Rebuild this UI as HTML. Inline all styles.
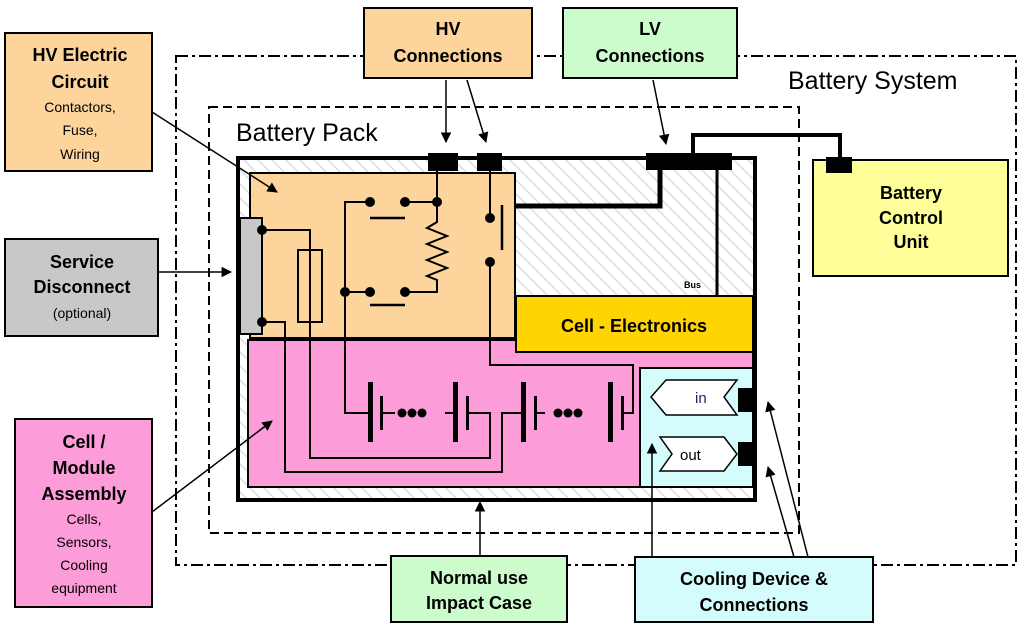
<!DOCTYPE html>
<html><head><meta charset="utf-8"><style>
html,body{margin:0;padding:0;background:#fff}
svg{display:block}
text{font-family:"Liberation Sans",sans-serif;font-weight:bold;fill:#000}
</style></head><body>
<svg width="1024" height="634" viewBox="0 0 1024 634" xmlns="http://www.w3.org/2000/svg">
<defs>
<pattern id="h" width="14" height="14" patternUnits="userSpaceOnUse">
<rect width="14" height="14" fill="#fff"/>
<path d="M0 0L14 14M-7 7L7 21M7 -7L21 7" stroke="#ddd" stroke-width="1.5"/>
</pattern>
<marker id="a" viewBox="0 0 10 10" refX="9" refY="5" markerWidth="7" markerHeight="7" orient="auto"><path d="M0 0L10 5L0 10z" fill="#000"/></marker>
</defs>
<rect x="176" y="56" width="840" height="509" fill="none" stroke="#000" stroke-width="2" stroke-dasharray="12,4,3,4"/>
<text x="788" y="89" font-size="25" style="font-weight:normal">Battery System</text>
<rect x="209" y="107" width="590" height="426" fill="none" stroke="#000" stroke-width="2" stroke-dasharray="9,5"/>
<text x="236" y="141" font-size="25" style="font-weight:normal">Battery Pack</text>
<rect x="238" y="158" width="517" height="342" fill="url(#h)" stroke="#000" stroke-width="4"/>
<rect x="250" y="173" width="265" height="165" fill="#fcd49c" stroke="#000" stroke-width="2"/>
<rect x="240" y="218" width="22" height="116" fill="#c8c8c8" stroke="#000" stroke-width="2"/>
<rect x="248" y="340" width="505" height="147" fill="#fc9cd8" stroke="#000" stroke-width="2"/>
<rect x="516" y="296" width="237" height="56" fill="#ffd400" stroke="#000" stroke-width="2"/>
<text x="634" y="332" font-size="18" text-anchor="middle">Cell - Electronics</text>
<rect x="640" y="368" width="113" height="119" fill="#d4fcfc" stroke="#000" stroke-width="2"/>
<g fill="none" stroke="#000" stroke-width="2">
<path d="M262 230H310V458H490V413H467"/>
<path d="M262 322H285V472H502V413H521"/>
<rect x="298" y="250" width="24" height="72"/>
<path d="M370 202H345V413H368"/>
<path d="M405 202H437M437 160V202"/>
<path d="M437 202V222L427 228L447 236L427 244L447 252L427 260L447 268L427 276L437 280V292H405"/>
<path d="M345 292H370"/>
<path d="M370 218H405M370 305H405" stroke-width="2.5"/>
<path d="M490 160V218M490 262V365H633V413H622"/>
<path d="M502 205V250" stroke-width="2.5"/>
<path d="M381 413H395M455 413H445M535 413H545"/>
</g>
<g fill="#000">
<circle cx="262" cy="230" r="5"/><circle cx="262" cy="322" r="5"/>
<circle cx="370" cy="202" r="5"/><circle cx="405" cy="202" r="5"/><circle cx="437" cy="202" r="5"/>
<circle cx="345" cy="292" r="5"/><circle cx="370" cy="292" r="5"/><circle cx="405" cy="292" r="5"/>
<circle cx="490" cy="218" r="5"/><circle cx="490" cy="262" r="5"/>
<rect x="368" y="382" width="5" height="60"/><rect x="380" y="396" width="3" height="34"/>
<circle cx="402" cy="413" r="4.5"/><circle cx="412" cy="413" r="4.5"/><circle cx="422" cy="413" r="4.5"/>
<rect x="453" y="382" width="5" height="60"/><rect x="466" y="396" width="3" height="34"/>
<rect x="521" y="382" width="5" height="60"/><rect x="534" y="396" width="3" height="34"/>
<circle cx="558" cy="413" r="4.5"/><circle cx="568" cy="413" r="4.5"/><circle cx="578" cy="413" r="4.5"/>
<rect x="608" y="382" width="5" height="60"/><rect x="621" y="396" width="3" height="34"/>
<rect x="428" y="153" width="30" height="18"/><rect x="477" y="153" width="25" height="18"/>
<rect x="646" y="153" width="86" height="17"/>
<rect x="738" y="388" width="19" height="24"/><rect x="738" y="442" width="19" height="24"/>
</g>
<g fill="none" stroke="#000">
<path d="M660 165V206H516" stroke-width="5"/>
<path d="M717 165V296" stroke-width="3"/>
<path d="M693 155V135H840V158" stroke-width="4"/>
</g>
<text x="684" y="288" font-size="9">Bus</text>
<path d="M651 397L666 380H737L724 397L737 415H666Z" fill="#fff" stroke="#000" stroke-width="1.5"/>
<text x="695" y="403" font-size="15" style="font-weight:normal;fill:#2a1a6a">in</text>
<path d="M660 437H724L737 454L724 471H660L672 454Z" fill="#fff" stroke="#000" stroke-width="1.5"/>
<text x="680" y="460" font-size="15" style="font-weight:normal">out</text>
<rect x="813" y="160" width="195" height="116" fill="#ffff99" stroke="#000" stroke-width="2"/>
<rect x="826" y="157" width="26" height="16" fill="#000"/>
<text font-size="18" text-anchor="middle"><tspan x="911" y="199">Battery</tspan><tspan x="911" y="224">Control</tspan><tspan x="911" y="248">Unit</tspan></text>
<rect x="5" y="33" width="147" height="138" fill="#fcd49c" stroke="#000" stroke-width="2"/>
<text text-anchor="middle"><tspan x="80" y="61" font-size="18">HV Electric</tspan><tspan x="80" y="88" font-size="18">Circuit</tspan><tspan x="80" y="112" font-size="14" style="font-weight:normal">Contactors,</tspan><tspan x="80" y="135" font-size="14" style="font-weight:normal">Fuse,</tspan><tspan x="80" y="159" font-size="14" style="font-weight:normal">Wiring</tspan></text>
<rect x="5" y="239" width="153" height="97" fill="#c8c8c8" stroke="#000" stroke-width="2"/>
<text text-anchor="middle"><tspan x="82" y="268" font-size="18">Service</tspan><tspan x="82" y="293" font-size="18">Disconnect</tspan><tspan x="82" y="318" font-size="14" style="font-weight:normal">(optional)</tspan></text>
<rect x="15" y="419" width="137" height="188" fill="#fc9cd8" stroke="#000" stroke-width="2"/>
<text text-anchor="middle"><tspan x="84" y="448" font-size="18">Cell /</tspan><tspan x="84" y="474" font-size="18">Module</tspan><tspan x="84" y="500" font-size="18">Assembly</tspan><tspan x="84" y="524" font-size="14" style="font-weight:normal">Cells,</tspan><tspan x="84" y="547" font-size="14" style="font-weight:normal">Sensors,</tspan><tspan x="84" y="570" font-size="14" style="font-weight:normal">Cooling</tspan><tspan x="84" y="593" font-size="14" style="font-weight:normal">equipment</tspan></text>
<rect x="364" y="8" width="168" height="70" fill="#fcd49c" stroke="#000" stroke-width="2"/>
<text text-anchor="middle" font-size="18"><tspan x="448" y="35">HV</tspan><tspan x="448" y="62">Connections</tspan></text>
<rect x="563" y="8" width="174" height="70" fill="#ccfccc" stroke="#000" stroke-width="2"/>
<text text-anchor="middle" font-size="18"><tspan x="650" y="35">LV</tspan><tspan x="650" y="62">Connections</tspan></text>
<rect x="391" y="556" width="176" height="66" fill="#ccfccc" stroke="#000" stroke-width="2"/>
<text text-anchor="middle" font-size="18"><tspan x="479" y="584">Normal use</tspan><tspan x="479" y="609">Impact Case</tspan></text>
<rect x="635" y="557" width="238" height="65" fill="#d4fcfc" stroke="#000" stroke-width="2"/>
<text text-anchor="middle" font-size="18"><tspan x="754" y="585">Cooling Device &amp;</tspan><tspan x="754" y="611">Connections</tspan></text>
<g stroke="#000" stroke-width="1.5" fill="none" marker-end="url(#a)">
<path d="M446 80V142"/>
<path d="M467 80L486 142"/>
<path d="M653 80L666 144"/>
<path d="M152 112L277 192"/>
<path d="M158 272L231 272"/>
<path d="M152 512L272 421"/>
<path d="M480 556V502"/>
<path d="M652 557V444"/>
<path d="M808 557L768 402"/>
<path d="M794 557L768 467"/>
</g>
</svg>
</body></html>
